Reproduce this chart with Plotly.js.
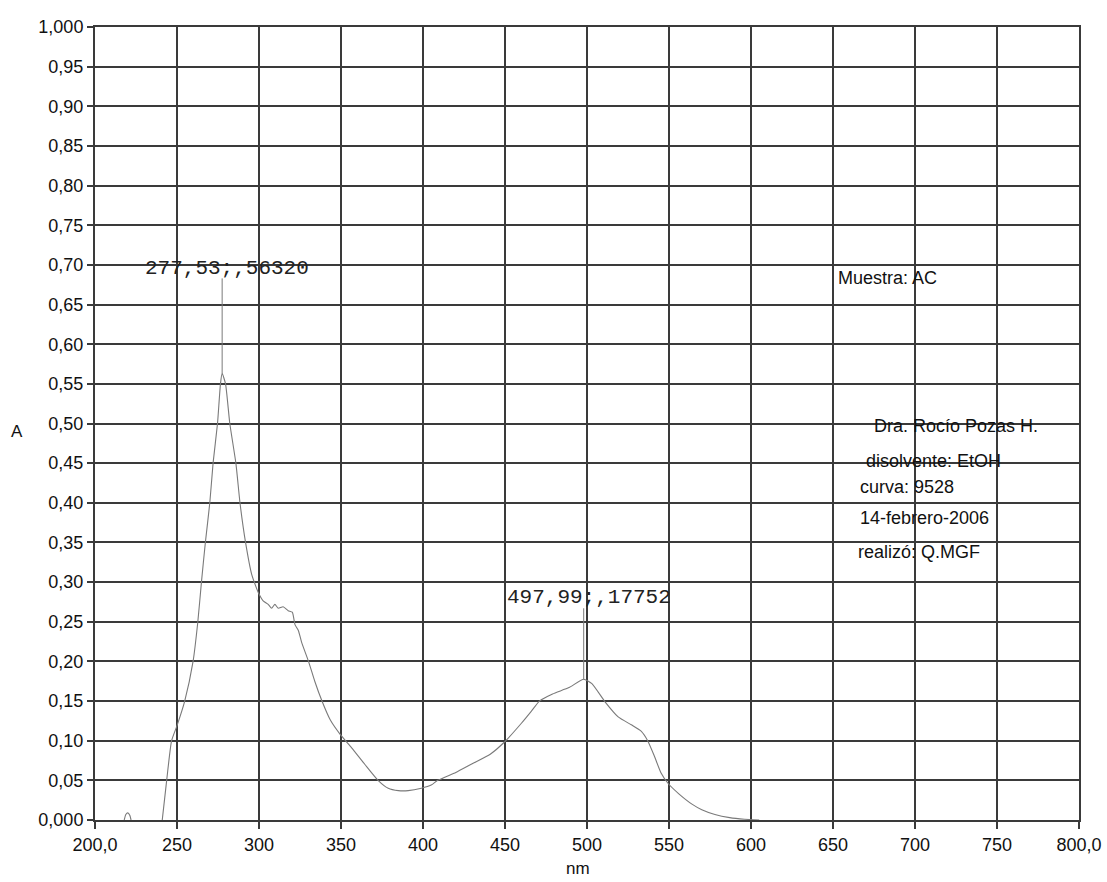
<!DOCTYPE html>
<html>
<head>
<meta charset="utf-8">
<script src="https://cdn.plot.ly/plotly-3.0.1.min.js"></script>
<style>
  html, body { margin: 0; padding: 0; background: #ffffff; }
  #chart { width: 1107px; height: 882px; }
</style>
</head>
<body>
<div id="chart"></div>
<script>
// ---- Data ----
const wavelength = [
  217.8, 218.8, 220.0, 221.2, 222.0, null,
  241.0, 243.7, 246.7, 250.0, 254.7, 259.8, 262.7, 264.9, 267.3, 270.0,
  272.0, 274.7, 276.5, 277.53, 279.6, 282.2, 285.9, 288.4, 291.8, 295.5,
  298.0, 300.0, 302.7, 305.6, 307.7, 309.7, 311.7, 314.7, 317.8, 320.3,
  322.0, 324.0, 326.0, 330.2, 334.0, 338.4, 343.5, 349.5, 356.5, 364.6,
  372.6, 378.8, 385.0, 391.0, 399.0, 405.0, 409.0, 420.0, 430.0, 441.0,
  450.0, 460.0, 466.0, 471.0, 479.0, 489.0, 497.99, 503.0, 511.0, 519.0,
  527.0, 533.0, 537.0, 541.0, 545.0, 549.5, 556.0, 564.0, 570.0, 578.0,
  587.0, 596.0, 605.0
];
const absorbance = [
  0.000, 0.007, 0.009, 0.006, 0.000, null,
  0.000, 0.050, 0.100, 0.119, 0.150, 0.200, 0.250, 0.300, 0.350, 0.400,
  0.450, 0.500, 0.550, 0.5632, 0.550, 0.500, 0.450, 0.400, 0.350, 0.310,
  0.295, 0.285, 0.276, 0.272, 0.267, 0.272, 0.267, 0.269, 0.264, 0.262,
  0.246, 0.239, 0.224, 0.200, 0.175, 0.150, 0.126, 0.108, 0.091, 0.070,
  0.050, 0.040, 0.037, 0.037, 0.040, 0.044, 0.050, 0.060, 0.071, 0.083,
  0.099, 0.122, 0.137, 0.150, 0.159, 0.167, 0.17752, 0.172, 0.149, 0.130,
  0.120, 0.112, 0.100, 0.081, 0.060, 0.046, 0.033, 0.020, 0.013, 0.007,
  0.003, 0.001, 0.000
];

// Peak markers
const peakWl = [277.53, 497.99];
const peakAbs = [0.5632, 0.17752];
const peakMarkerTop = [0.683, 0.267];
const peakLabels = ["277,53;,56320", "497,99;,17752"];
const peakLabelAbs = [0.695, 0.280];

// Tick labels
const yTickVals = [0, 0.05, 0.10, 0.15, 0.20, 0.25, 0.30, 0.35, 0.40, 0.45, 0.50,
                   0.55, 0.60, 0.65, 0.70, 0.75, 0.80, 0.85, 0.90, 0.95, 1.00];
const yTickText = ["0,000", "0,05", "0,10", "0,15", "0,20", "0,25", "0,30", "0,35", "0,40", "0,45", "0,50",
                   "0,55", "0,60", "0,65", "0,70", "0,75", "0,80", "0,85", "0,90", "0,95", "1,000"];
const xTickVals = [200, 250, 300, 350, 400, 450, 500, 550, 600, 650, 700, 750, 800];
const xTickText = ["200,0", "250", "300", "350", "400", "450", "500", "550", "600", "650", "700", "750", "800,0"];

// Notes text
const noteTexts = ["Muestra: AC", "Dra. Rocío Pozas H.", "disolvente: EtOH", "curva: 9528", "14-febrero-2006", "realizó: Q.MGF"];
const noteWl = [652, 674, 669, 665, 665, 664];
const noteAbs = [0.683, 0.497, 0.453, 0.420, 0.381, 0.338];

// ---- Build chart ----
const curveColor = '#7a7a7a';
const gridColor = '#3a3a3a';

const traces = [{
  x: wavelength, y: absorbance, type: 'scatter', mode: 'lines',
  line: { color: curveColor, width: 1.1, shape: 'spline', smoothing: 0.5 },
  connectgaps: false, hoverinfo: 'skip'
}];
peakWl.forEach((w, i) => {
  traces.push({
    x: [w, w], y: [peakAbs[i], peakMarkerTop[i]], type: 'scatter', mode: 'lines',
    line: { color: curveColor, width: 1 }, hoverinfo: 'skip'
  });
});

const annotations = [];
peakLabels.forEach((t, i) => {
  annotations.push({
    x: peakWl[i] + 3, y: peakLabelAbs[i], xref: 'x', yref: 'y', text: t, showarrow: false,
    xanchor: 'center', yanchor: 'middle',
    font: { family: 'Liberation Mono, Courier New, monospace', size: 21, color: '#222' }
  });
});
noteTexts.forEach((t, i) => {
  annotations.push({
    x: noteWl[i], y: noteAbs[i], xref: 'x', yref: 'y', text: t, showarrow: false,
    xanchor: 'left', yanchor: 'middle',
    font: { family: 'Liberation Sans, Arial, sans-serif', size: 18, color: '#111' }
  });
});
annotations.push({
  x: -0.079, y: 0.49, xref: 'paper', yref: 'paper', text: 'A', showarrow: false,
  xanchor: 'center', yanchor: 'middle',
  font: { family: 'Liberation Sans, Arial, sans-serif', size: 17, color: '#111' }
});
annotations.push({
  x: 0.491, y: 0, xref: 'paper', yref: 'paper', text: 'nm', showarrow: false,
  xanchor: 'center', yanchor: 'middle', yshift: -48,
  font: { family: 'Liberation Sans, Arial, sans-serif', size: 17, color: '#111' }
});

const axisCommon = {
  tickmode: 'array',
  showgrid: true, gridcolor: gridColor, gridwidth: 2,
  showline: true, linecolor: gridColor, linewidth: 2, mirror: true,
  ticks: 'outside', ticklen: 7, tickcolor: gridColor, tickwidth: 2,
  zeroline: false, tickfont: { size: 18, color: '#111' }
};

const layout = {
  width: 1107, height: 882,
  margin: { l: 95, r: 28, t: 27, b: 62 },
  paper_bgcolor: '#ffffff', plot_bgcolor: '#ffffff',
  showlegend: false,
  font: { family: 'Liberation Sans, Arial, sans-serif', size: 18, color: '#111' },
  xaxis: Object.assign({}, axisCommon, { range: [200, 800], tickvals: xTickVals, ticktext: xTickText }),
  yaxis: Object.assign({}, axisCommon, { range: [0, 1], tickvals: yTickVals, ticktext: yTickText, ticklen: 6 }),
  annotations: annotations
};

Plotly.newPlot('chart', traces, layout, { staticPlot: true, displayModeBar: false });
</script>
</body>
</html>
